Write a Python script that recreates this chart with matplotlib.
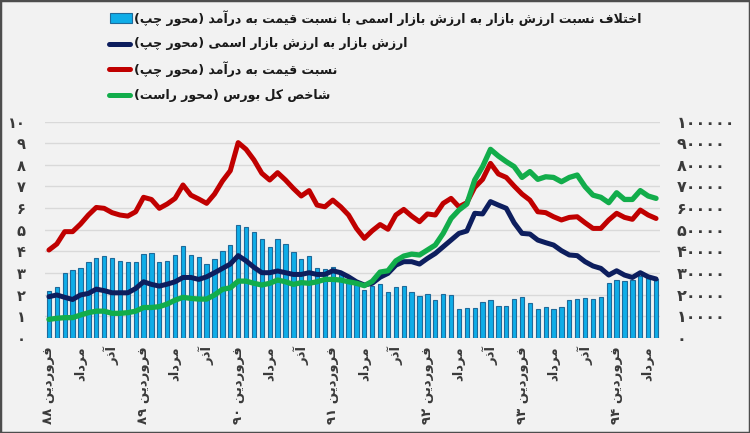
import re
import matplotlib
matplotlib.use('Agg')
import matplotlib.pyplot as plt
from matplotlib.patches import Rectangle
from matplotlib.lines import Line2D

plt.rcParams['font.family'] = ['DejaVu Sans']

# داده ها (ماهانه از فروردین ۸۸)
months = list(range(78))

diff_bars = [2.16, 2.33, 2.98, 3.13, 3.21, 3.52, 3.67, 3.78, 3.67, 3.55,
             3.49, 3.49, 3.87, 3.90, 3.52, 3.56, 3.83, 4.24, 3.83, 3.72,
             3.40, 3.64, 4.03, 4.31, 5.22, 5.11, 4.88, 4.55, 4.21, 4.55,
             4.32, 3.98, 3.63, 3.78, 3.21, 3.16, 3.26, 2.98, 2.67, 2.44,
             2.20, 2.39, 2.48, 2.13, 2.36, 2.39, 2.13, 1.93, 2.02, 1.74,
             2.02, 1.96, 1.31, 1.36, 1.36, 1.67, 1.74, 1.47, 1.47, 1.81,
             1.87, 1.62, 1.31, 1.40, 1.31, 1.44, 1.74, 1.79, 1.85, 1.77,
             1.87, 2.55, 2.65, 2.62, 2.65, 2.87, 2.75, 2.70]

mv_ratio = [1.90, 1.98, 1.87, 1.77, 1.98, 2.05, 2.25, 2.18, 2.08, 2.08,
            2.08, 2.28, 2.59, 2.47, 2.39, 2.48, 2.59, 2.79, 2.79, 2.70,
            2.82, 3.01, 3.21, 3.41, 3.80, 3.56, 3.26, 3.01, 3.01, 3.09,
            3.01, 2.93, 2.93, 3.01, 2.93, 2.93, 3.10, 3.01, 2.82, 2.59,
            2.44, 2.52, 2.80, 2.98, 3.36, 3.52, 3.52, 3.41, 3.67, 3.90,
            4.21, 4.52, 4.83, 4.94, 5.76, 5.73, 6.30, 6.14, 5.99, 5.32,
            4.83, 4.80, 4.52, 4.40, 4.29, 4.03, 3.83, 3.80, 3.52, 3.32,
            3.21, 2.90, 3.10, 2.90, 2.79, 3.01, 2.82, 2.72]

pe_ratio = [4.06, 4.34, 4.91, 4.91, 5.26, 5.68, 6.03, 5.99, 5.79, 5.68,
            5.63, 5.83, 6.50, 6.40, 5.99, 6.19, 6.45, 7.07, 6.60, 6.42,
            6.22, 6.65, 7.25, 7.73, 9.03, 8.72, 8.23, 7.61, 7.30, 7.64,
            7.30, 6.91, 6.56, 6.81, 6.14, 6.06, 6.37, 6.06, 5.68, 5.06,
            4.60, 4.95, 5.24, 5.02, 5.68, 5.94, 5.63, 5.37, 5.73, 5.68,
            6.22, 6.45, 6.06, 6.25, 6.96, 7.33, 8.07, 7.58, 7.42, 7.02,
            6.65, 6.37, 5.83, 5.79, 5.60, 5.45, 5.57, 5.60, 5.32, 5.06,
            5.06, 5.45, 5.76, 5.57, 5.48, 5.91, 5.68, 5.52]

tedpix = [8500, 9000, 9300, 9300, 10500, 11600, 12300, 12300, 11300, 11300,
          11600, 12300, 14000, 14000, 14400, 15600, 17400, 18700, 18200, 17900,
          17900, 19800, 22400, 23100, 26200, 26200, 25200, 24400, 25200, 26700,
          25900, 24700, 25500, 25200, 25900, 27000, 27000, 26700, 25900, 25200,
          24100, 26100, 30400, 31000, 35600, 37800, 38700, 38300, 40600, 42900,
          48300, 55200, 59100, 61900, 73000, 79200, 87200, 84100, 81500, 79200,
          74200, 76900, 73300, 74500, 74200, 72200, 74200, 75300, 69900, 66000,
          65000, 62500, 67100, 64000, 64000, 68100, 65600, 64500]

tick_pos = list(range(0, 78, 4))
tick_names = ['فروردین ۸۸', 'مرداد', 'آذر',
              'فروردین ۸۹', 'مرداد', 'آذر',
              'فروردین ۹۰', 'مرداد', 'آذر',
              'فروردین ۹۱', 'مرداد', 'آذر',
              'فروردین ۹۲', 'مرداد', 'آذر',
              'فروردین ۹۳', 'مرداد', 'آذر',
              'فروردین ۹۴', 'مرداد']

legend_names = ['اختلاف نسبت ارزش بازار به ارزش بازار اسمی با نسبت قیمت به درآمد (محور چپ)',
                'ارزش بازار به ارزش بازار اسمی (محور چپ)',
                'نسبت قیمت به درآمد (محور چپ)',
                'شاخص کل بورس (محور راست)']

# شکل دادن حروف فارسی (matplotlib خودش حروف را به هم نمی چسباند)
FORMS = {
    'ا': ('\uFE8D', '\uFE8E', None, None),
    'آ': ('\uFE81', '\uFE82', None, None),
    'ب': ('\uFE8F', '\uFE90', '\uFE91', '\uFE92'),
    'پ': ('\uFB56', '\uFB57', '\uFB58', '\uFB59'),
    'ت': ('\uFE95', '\uFE96', '\uFE97', '\uFE98'),
    'ج': ('\uFE9D', '\uFE9E', '\uFE9F', '\uFEA0'),
    'چ': ('\uFB7A', '\uFB7B', '\uFB7C', '\uFB7D'),
    'ح': ('\uFEA1', '\uFEA2', '\uFEA3', '\uFEA4'),
    'خ': ('\uFEA5', '\uFEA6', '\uFEA7', '\uFEA8'),
    'د': ('\uFEA9', '\uFEAA', None, None),
    'ذ': ('\uFEAB', '\uFEAC', None, None),
    'ر': ('\uFEAD', '\uFEAE', None, None),
    'ز': ('\uFEAF', '\uFEB0', None, None),
    'س': ('\uFEB1', '\uFEB2', '\uFEB3', '\uFEB4'),
    'ش': ('\uFEB5', '\uFEB6', '\uFEB7', '\uFEB8'),
    'ص': ('\uFEB9', '\uFEBA', '\uFEBB', '\uFEBC'),
    'ف': ('\uFED1', '\uFED2', '\uFED3', '\uFED4'),
    'ق': ('\uFED5', '\uFED6', '\uFED7', '\uFED8'),
    'ک': ('\uFB8E', '\uFB8F', '\uFB90', '\uFB91'),
    'ل': ('\uFEDD', '\uFEDE', '\uFEDF', '\uFEE0'),
    'م': ('\uFEE1', '\uFEE2', '\uFEE3', '\uFEE4'),
    'ن': ('\uFEE5', '\uFEE6', '\uFEE7', '\uFEE8'),
    'ه': ('\uFEE9', '\uFEEA', '\uFEEB', '\uFEEC'),
    'و': ('\uFEED', '\uFEEE', None, None),
    'ی': ('\uFBFC', '\uFBFD', '\uFBFE', '\uFBFF'),
}
LAMALEF = {'ا': ('\uFEFB', '\uFEFC'), 'آ': ('\uFEF5', '\uFEF6')}


def fa(s):
    out = []
    i = 0
    while i < len(s):
        c = s[i]
        if c not in FORMS:
            out.append(c)
            i += 1
            continue
        prev = s[i - 1] if i > 0 else None
        joins_prev = prev in FORMS and FORMS[prev][2] is not None
        if c == 'ل' and i + 1 < len(s) and s[i + 1] in LAMALEF:
            lig = LAMALEF[s[i + 1]]
            out.append(lig[1] if joins_prev else lig[0])
            i += 2
            continue
        nxt = s[i + 1] if i + 1 < len(s) else None
        joins_next = FORMS[c][2] is not None and nxt in FORMS
        iso, fin, ini, med = FORMS[c]
        if joins_prev and joins_next:
            out.append(med)
        elif joins_prev:
            out.append(fin)
        elif joins_next:
            out.append(ini)
        else:
            out.append(iso)
        i += 1
    vis = ''.join(out)[::-1].translate(str.maketrans('()', ')('))
    return re.sub('[۰-۹]+', lambda m: m.group(0)[::-1], vis)


def fa_num(n):
    return str(n).translate(str.maketrans('0123456789', '۰۱۲۳۴۵۶۷۸۹'))


# رنگ ها
bg = '#F2F2F2'
bar_blue = '#0FADE8'
bar_edge = '#1F6A9A'
navy = '#0D1E5E'
red = '#C00000'
green = '#12AD4B'
grid = '#D9D9D9'
txt = '#3A3A3A'

W, H = 750, 433
fig = plt.figure(figsize=(7.5, 4.33), dpi=100, facecolor=bg)
ax = fig.add_axes([0.06, 0.22, 0.82, 0.499])
ax.set_facecolor(bg)
ax2 = ax.twinx()

ax.bar(months, diff_bars, width=0.55, color=bar_blue, edgecolor=bar_edge, linewidth=0.8, zorder=2)
ax.plot(months, mv_ratio, color=navy, lw=3.6, zorder=3, solid_capstyle='round')
ax.plot(months, pe_ratio, color=red, lw=3.6, zorder=4, solid_capstyle='round')
ax2.plot(months, tedpix, color=green, lw=3.8, zorder=5, solid_capstyle='round')

ax.set_xlim(-0.5, 77.5)
ax.set_ylim(0, 10)
ax2.set_ylim(0, 100000)
ax.set_yticks(range(11))
ax.set_yticklabels([fa_num(v) for v in range(11)])
ax2.set_yticks(range(0, 100001, 10000))
ax2.set_yticklabels([fa_num(v) for v in range(0, 100001, 10000)])
ax.set_xticks(tick_pos)
ax.set_xticklabels([fa(t) for t in tick_names], rotation=90, va='top', ha='center')

ax.grid(axis='y', color=grid, lw=1, zorder=0)
ax.set_axisbelow(True)
for a in (ax, ax2):
    for sp in a.spines.values():
        sp.set_visible(False)
ax.tick_params(axis='y', length=0, pad=14, labelsize=10.5, labelcolor=txt)
ax2.tick_params(axis='y', length=0, pad=12, labelsize=11.5, labelcolor=txt)
ax.tick_params(axis='x', length=0, pad=6, labelsize=9.5, labelcolor=txt)
for lab in ax.get_yticklabels() + ax2.get_yticklabels() + ax.get_xticklabels():
    lab.set_fontweight('bold')

# راهنما (دستی، سطرها با فاصله یکسان)
row_y = [18, 44, 69, 95]
for k, name in enumerate(legend_names):
    yf = 1 - row_y[k] / H
    if k == 0:
        fig.patches.append(Rectangle((110 / W, yf - 4.5 / H), 22 / W, 9 / H,
                                     transform=fig.transFigure, facecolor=bar_blue,
                                     edgecolor=bar_edge, lw=0.8))
    else:
        col = [navy, red, green][k - 1]
        fig.lines.append(Line2D([109 / W, 130 / W], [yf, yf], transform=fig.transFigure,
                                color=col, lw=3.6, solid_capstyle='round'))
    fig.text(134 / W, yf, fa(name), ha='left', va='center', fontsize=9,
             fontweight='bold', color='#1a1a1a')

# قاب دور تصویر
fig.patches.append(Rectangle((0, 0), 1, 1, transform=fig.transFigure, fill=False,
                             edgecolor='#4D4D4D', lw=2.5))

fig.savefig('out.png', dpi=100, facecolor=bg)
